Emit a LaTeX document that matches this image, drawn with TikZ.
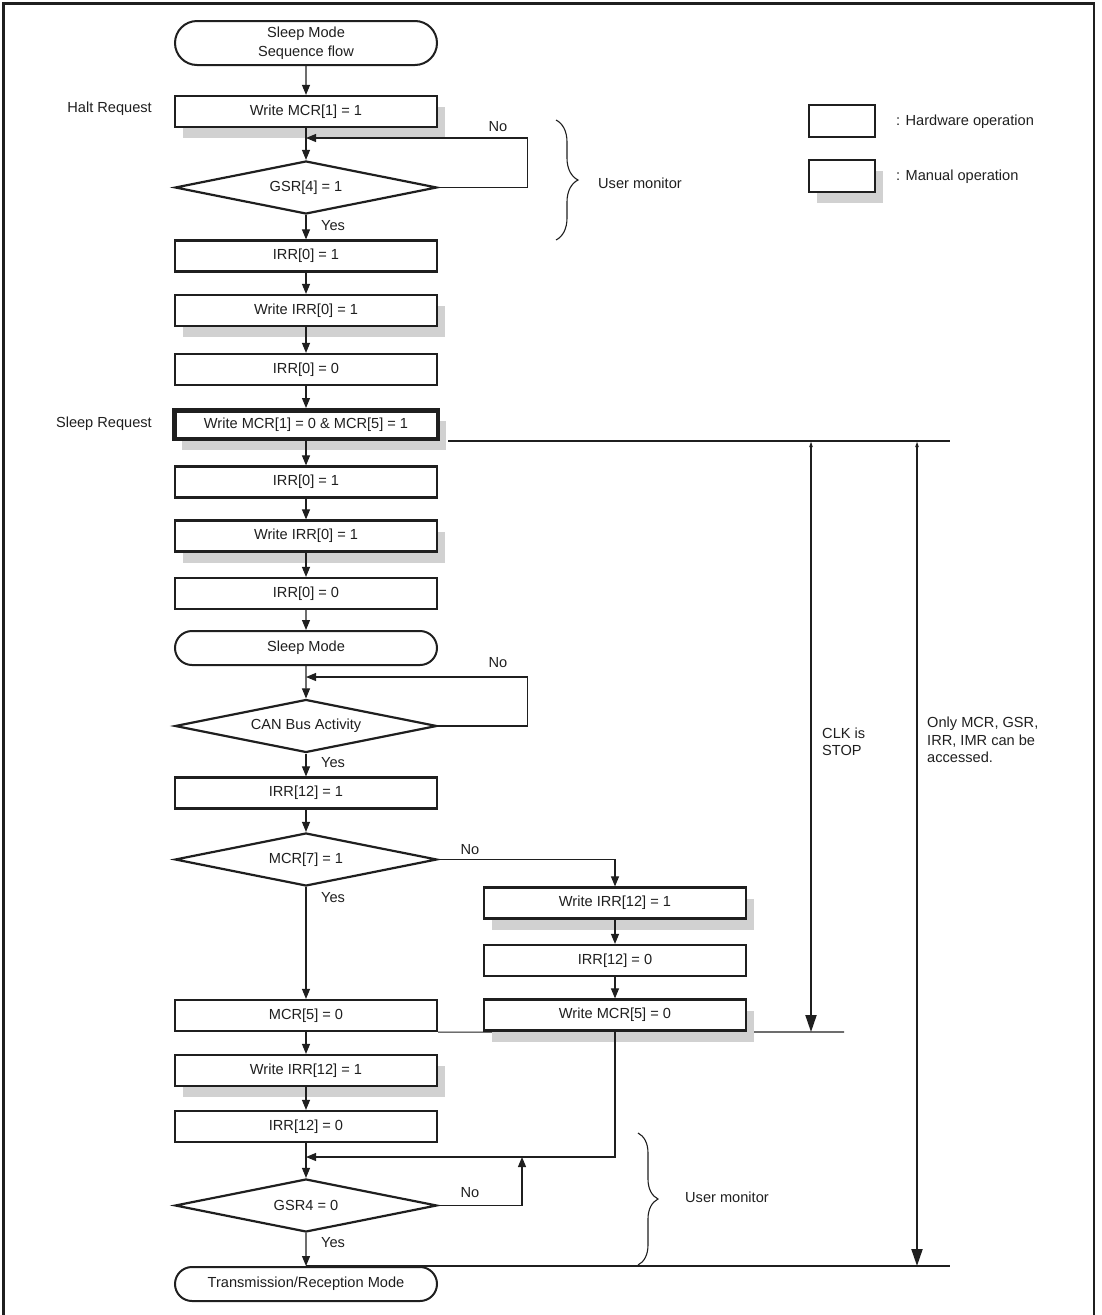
\documentclass[tikz,border=0pt]{standalone}
\usepackage{fontspec}
\setmainfont{Liberation Sans}
\usetikzlibrary{shapes.geometric,shapes.misc,arrows.meta,shadows,decorations.pathreplacing}
\pgfdeclarelayer{bg}
\pgfsetlayers{bg,main}
\definecolor{shd}{gray}{0.82}
\definecolor{ink}{gray}{0.12}
\begin{document}
\begin{tikzpicture}[x=1pt,y=-1pt, font=\fontsize{14.6pt}{17.5pt}\selectfont, text=ink,
 hw/.style={draw=ink, line width=2.2pt, fill=white, rectangle, minimum width=262pt, minimum height=31pt, inner sep=0pt},
 mw/.style={hw, general shadow={fill=shd, shadow xshift=8pt, shadow yshift=-11pt}},
 term/.style={draw=ink, line width=2pt, fill=white, rounded rectangle, minimum width=262pt, minimum height=34pt, inner sep=0pt},
 dec/.style={draw=ink, line width=2.2pt, fill=white, diamond, aspect=4.8, minimum width=262pt, minimum height=53pt, inner sep=0pt},
 flow/.style={draw=ink, line width=1.1pt, -{Triangle[length=10pt,width=8pt]}},
 plain/.style={draw=ink, line width=1.1pt},
 lbl/.style={inner sep=0pt},
 span/.style={draw=ink, line width=2pt, {Triangle[length=6pt,width=3pt]}-{Triangle[length=17pt,width=11pt]}},
 mybrace/.style={draw=ink, line width=1.1pt, decorate, decoration={brace, amplitude=22pt}}
]
\useasboundingbox (0,0) rectangle (1101,1315);
\draw[draw=ink, line width=2.5pt] (3.5,1315) -- (3.5,3.5) -- (1094,3.5) -- (1094,1315);

% main column
\node[term, minimum height=44pt, align=center, font=\fontsize{14.6pt}{19pt}\selectfont] (start) at (306,43) {Sleep Mode\\Sequence flow};
\node[mw] (w1) at (306,111.5) {Write MCR[1] = 1};
\node[dec] (d1) at (306,187.5) {GSR[4] = 1};
\node[hw] (b1) at (306,256) {IRR[0] = 1};
\node[mw] (w2) at (306,310.5) {Write IRR[0] = 1};
\node[hw] (b2) at (306,369.5) {IRR[0] = 0};
\node[mw, line width=4.5pt, minimum width=263.5pt, minimum height=28.5pt] (w3) at (306,424.5) {Write MCR[1] = 0 \& MCR[5] = 1};
\node[hw] (b3) at (306,482) {IRR[0] = 1};
\node[mw] (w4) at (306,536) {Write IRR[0] = 1};
\node[hw] (b4) at (306,593.5) {IRR[0] = 0};
\node[term] (t2) at (306,648) {Sleep Mode};
\node[dec] (d2) at (306,726) {CAN Bus Activity};
\node[hw] (b5) at (306,793) {IRR[12] = 1};
\node[dec] (d3) at (306,859.5) {MCR[7] = 1};
\node[mw] (wr1) at (615,903) {Write IRR[12] = 1};
\node[hw] (br1) at (615,960.5) {IRR[12] = 0};
\node[mw] (wr2) at (615,1015) {Write MCR[5] = 0};
\node[hw] (b6) at (306,1015.5) {MCR[5] = 0};
\node[mw] (w5) at (306,1070.5) {Write IRR[12] = 1};
\node[hw] (b7) at (306,1126.5) {IRR[12] = 0};
\node[dec] (d4) at (306,1205.5) {GSR4 = 0};
\node[term] (t3) at (306,1284) {Transmission/Reception Mode};

% junctions
\coordinate (j1) at (306,138);
\coordinate (j2) at (306,677);
\coordinate (j4) at (306,1157);
\coordinate (j5) at (522,1157);

% connectors
\draw[flow] (start) -- (w1);
\draw[flow] (w1) -- (d1);
\draw[flow] (d1.east) -- ++(89,0) |- (j1);
\draw[flow] (d1) -- (b1);
\draw[flow] (b1) -- (w2);
\draw[flow] (w2) -- (b2);
\draw[flow] (b2) -- (w3);
\draw[flow] (w3) -- (b3);
\draw[flow] (b3) -- (w4);
\draw[flow] (w4) -- (b4);
\draw[flow] (b4) -- (t2);
\draw[flow] (t2) -- (d2);
\draw[flow] (d2.east) -- ++(89,0) |- (j2);
\draw[flow] (d2) -- (b5);
\draw[flow] (b5) -- (d3);
\draw[flow] (d3.east) -| (wr1.north);
\draw[flow] (d3) -- (b6);
\draw[flow] (wr1) -- (br1);
\draw[flow] (br1) -- (wr2);
\draw[flow] (b6) -- (w5);
\draw[flow] (w5) -- (b7);
\draw[flow] (b7) -- (d4);
\draw[flow] (wr2.south) |- (j4);
\draw[flow] (d4.east) -| (j5);
\draw[flow] (d4) -- (t3);

% decision labels
\node[lbl] (no1) at (498,127) {No};
\node[lbl, anchor=west] (ye1) at (321,226) {Yes};
\node[lbl] (no2) at (498,663) {No};
\node[lbl, anchor=west] (ye2) at (321,763) {Yes};
\node[lbl] (no3) at (470,850) {No};
\node[lbl, anchor=west] (ye3) at (321,898) {Yes};
\node[lbl] (no4) at (470,1193) {No};
\node[lbl, anchor=west] (ye4) at (321,1243) {Yes};

% side labels
\node[lbl, anchor=east] (hr) at (152,109) {Halt Request};
\node[lbl, anchor=east] (sr) at (152,424) {Sleep Request};

% reference lines
\coordinate (r1s) at (448,441);
\coordinate (r1e) at (950,441);
\coordinate (r2e) at (844,1032);
\coordinate (r3e) at (950,1266);
\draw[plain] (r1s) -- (r1e);
\begin{pgfonlayer}{bg}
\draw[plain] (b6.south east) -- (r2e);
\draw[plain] (t3.north) -- (r3e);
\end{pgfonlayer}

% span arrows
\coordinate (c1t) at (811,441);
\coordinate (c1b) at (811,1032);
\coordinate (o1t) at (917,441);
\coordinate (o1b) at (917,1266);
\draw[span] (c1t) -- (c1b);
\draw[span] (o1t) -- (o1b);
\node[lbl, anchor=west, align=left] (clk) at (822,742) {CLK is\\STOP};
\node[lbl, anchor=west, align=left] (only) at (927,740) {Only MCR, GSR,\\IRR, IMR can be\\accessed.};

% braces
\draw[mybrace] (556,120) -- (556,240);
\node[lbl, anchor=west] (um1) at (598,183) {User monitor};
\draw[mybrace, decoration={brace, amplitude=20pt}] (638,1133) -- (638,1265);
\node[lbl, anchor=west] (um2) at (685,1197) {User monitor};

% legend
\node[hw, minimum width=66pt, minimum height=32pt] (lh) at (842,121) {};
\node[mw, minimum width=66pt, minimum height=32pt] (lm) at (842,176) {};
\node[lbl, anchor=west] (lht) at (896,122) {: Hardware operation};
\node[lbl, anchor=west] (lmt) at (896,177) {: Manual operation};
\end{tikzpicture}
\end{document}
